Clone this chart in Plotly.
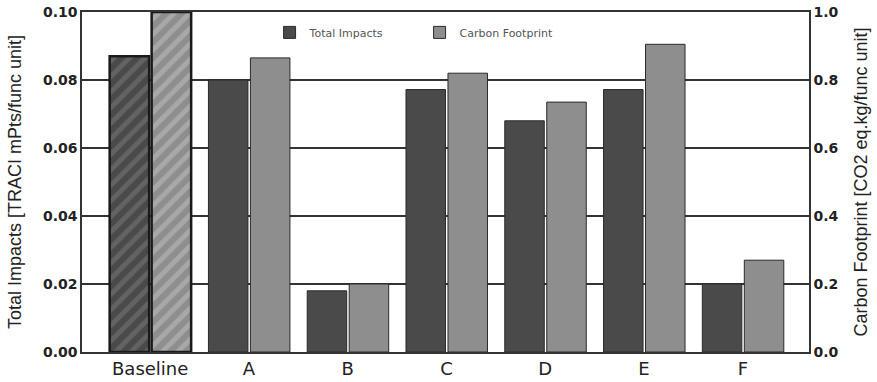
import plotly.graph_objects as go

categories = ["Baseline", "A", "B", "C", "D", "E", "F"]
total_impacts = [0.087, 0.080, 0.018, 0.0772, 0.068, 0.0772, 0.020]
carbon_footprint = [1.0, 0.865, 0.20, 0.82, 0.735, 0.905, 0.27]
left_ticks = [0.00, 0.02, 0.04, 0.06, 0.08, 0.10]
right_ticks = [0.0, 0.2, 0.4, 0.6, 0.8, 1.0]

xpos = list(range(len(categories)))
base_idx = [i for i, c in enumerate(categories) if c == "Baseline"]
other_idx = [i for i, c in enumerate(categories) if c != "Baseline"]

DARK, LIGHT = "#4a4a4a", "#8e8e8e"

fig = go.Figure()
# Hatched baseline bars
fig.add_trace(go.Bar(
    x=[xpos[i] for i in base_idx], y=[total_impacts[i] for i in base_idx],
    yaxis="y", width=0.4, offset=-0.41, showlegend=False,
    marker=dict(color=DARK, line=dict(color="#1a1a1a", width=2.5),
                pattern=dict(shape="/", fgcolor="#7c7c7c", bgcolor=DARK,
                             size=11, solidity=0.45, fillmode="overlay")),
))
fig.add_trace(go.Bar(
    x=[xpos[i] for i in base_idx], y=[carbon_footprint[i] for i in base_idx],
    yaxis="y2", width=0.4, offset=0.015, showlegend=False,
    marker=dict(color=LIGHT, line=dict(color="#1a1a1a", width=2.5),
                pattern=dict(shape="/", fgcolor="#c2c2c2", bgcolor=LIGHT,
                             size=11, solidity=0.45, fillmode="overlay")),
))
# Other scenarios
fig.add_trace(go.Bar(
    x=[xpos[i] for i in other_idx], y=[total_impacts[i] for i in other_idx],
    name="Total Impacts", yaxis="y", width=0.4, offset=-0.41,
    marker=dict(color=DARK, line=dict(color="#2a2a2a", width=1)),
))
fig.add_trace(go.Bar(
    x=[xpos[i] for i in other_idx], y=[carbon_footprint[i] for i in other_idx],
    name="Carbon Footprint", yaxis="y2", width=0.4, offset=0.015,
    marker=dict(color=LIGHT, line=dict(color="#2a2a2a", width=1)),
))

tickfont = dict(family="DejaVu Sans", size=14, color="#222", weight="bold")
titlefont = dict(family="Liberation Sans", size=18, color="#222")
fig.update_layout(
    width=877, height=382,
    margin=dict(l=82, r=68, t=12, b=30, autoexpand=False),
    plot_bgcolor="white", paper_bgcolor="white",
    showlegend=True,
    legend=dict(orientation="h", x=0.258, y=0.94, xanchor="left", yanchor="middle",
                font=dict(family="DejaVu Sans", size=11, color="#555"),
                bgcolor="rgba(0,0,0,0)", itemwidth=30, entrywidth=105),
    xaxis=dict(range=[-0.69, 6.67], tickmode="array", tickvals=xpos, ticktext=categories,
               tickfont=dict(family="DejaVu Sans", size=18, color="#222"),
               showgrid=False, zeroline=False, ticks="", showline=True,
               linecolor="#333", linewidth=1.5, mirror=True, automargin=False),
    yaxis=dict(range=[0, 0.1], tickmode="array", tickvals=left_ticks,
               ticktext=[f"{v:.2f}" for v in left_ticks], tickfont=tickfont,
               showgrid=True, gridcolor="#333", gridwidth=1.5, zeroline=False,
               showline=True, linecolor="#333", linewidth=1.5, ticks="", automargin=False,
               title=dict(text="Total Impacts [TRACI mPts/func unit]",
                          font=titlefont, standoff=17)),
    yaxis2=dict(range=[0, 1.0], overlaying="y", side="right", tickmode="array",
                tickvals=right_ticks, ticktext=[f"{v:.1f}" for v in right_ticks],
                tickfont=tickfont, showgrid=False, zeroline=False, automargin=False,
                showline=True, linecolor="#333", linewidth=1.5, ticks="",
                title=dict(text="Carbon Footprint [CO2 eq.kg/func unit]",
                           font=titlefont, standoff=17)),
)

fig.write_html("out.html", config={"displayModeBar": False},
               post_script="document.body.style.margin='0';document.body.style.overflow='hidden';")
